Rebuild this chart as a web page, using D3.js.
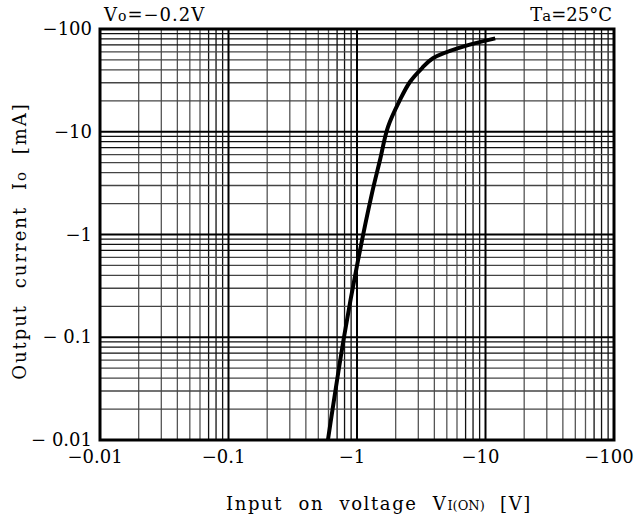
<!DOCTYPE html>
<html>
<head>
<meta charset="utf-8">
<script src="https://cdn.jsdelivr.net/npm/d3@7"></script>
<style>
  body { margin: 0; background: #fff; }
  svg text { font-family: "DejaVu Serif", serif; fill: #000; }
</style>
</head>
<body>
<div id="chart"></div>
<script>
// Input on voltage VI(ON) [V] vs output current Io [mA]
const voltage = [-0.594, -0.792, -1.02, -1.31, -1.51, -1.74, -2.16, -2.58, -3.21, -3.9, -6.33, -11.9];
const current = [-0.01, -0.1, -0.565, -2.54, -5.31, -11.1, -20.4, -30.5, -41.7, -52, -66, -81];

const xTicks = [-0.01, -0.1, -1, -10, -100];
const xTickLabels = ["\u22120.01", "\u22120.1", "\u22121", "\u221210", "\u2212100"];
const yTicks = [-100, -10, -1, -0.1, -0.01];
const yTickLabels = ["\u2212100", "\u221210", "\u22121", "\u2212 0.1", "\u2212 0.01"];

const width = 636, height = 522;
const margin = { top: 29, right: 22, bottom: 82, left: 100 };
const w = width - margin.left - margin.right;
const h = height - margin.top - margin.bottom;

const svg = d3.select("#chart").append("svg")
    .attr("width", width)
    .attr("height", height);

const g = svg.append("g")
    .attr("transform", `translate(${margin.left},${margin.top})`);

const x = d3.scaleLog().domain([-0.01, -100]).range([0, w]);
const y = d3.scaleLog().domain([-0.01, -100]).range([h, 0]);

// minor grid: 2..9 in every decade
const minor = [];
[-0.01, -0.1, -1, -10].forEach(d => {
    for (let k = 2; k <= 9; k++) minor.push(d * k);
});

g.selectAll(".vminor").data(minor).enter().append("line")
    .attr("x1", d => x(d)).attr("x2", d => x(d))
    .attr("y1", 0).attr("y2", h)
    .attr("stroke", (d, i) => i % 8 >= 5 ? "#111" : "#555")
    .attr("stroke-width", 1.3);

g.selectAll(".hminor").data(minor).enter().append("line")
    .attr("y1", d => y(d)).attr("y2", d => y(d))
    .attr("x1", 0).attr("x2", w)
    .attr("stroke", (d, i) => i % 8 >= 5 ? "#111" : "#444")
    .attr("stroke-width", 1.3);

// decade grid
g.selectAll(".vmajor").data(xTicks.slice(1, -1)).enter().append("line")
    .attr("x1", d => x(d)).attr("x2", d => x(d))
    .attr("y1", 0).attr("y2", h)
    .attr("stroke", "#000").attr("stroke-width", 2);

g.selectAll(".hmajor").data(yTicks.slice(1, -1)).enter().append("line")
    .attr("y1", d => y(d)).attr("y2", d => y(d))
    .attr("x1", 0).attr("x2", w)
    .attr("stroke", "#000").attr("stroke-width", 2.2);

// frame
g.append("rect")
    .attr("width", w).attr("height", h)
    .attr("fill", "none").attr("stroke", "#000").attr("stroke-width", 3);

// curve
const pts = voltage.map((v, i) => [v, current[i]]);
g.append("path")
    .datum(pts)
    .attr("fill", "none")
    .attr("stroke", "#000")
    .attr("stroke-width", 4)
    .attr("d", d3.line()
        .x(d => x(d[0]))
        .y(d => y(d[1]))
        .curve(d3.curveCatmullRom.alpha(0.5)));

// tick labels
g.selectAll(".xlab").data(xTicks).enter().append("text")
    .attr("x", d => x(d) - 5)
    .attr("y", h + 23)
    .attr("text-anchor", "middle")
    .attr("font-size", 18)
    .text((d, i) => xTickLabels[i]);

g.selectAll(".ylab").data(yTicks).enter().append("text")
    .attr("x", -8)
    .attr("y", d => y(d) + 6)
    .attr("text-anchor", "end")
    .attr("font-size", 18)
    .text((d, i) => yTickLabels[i]);

// annotations
const vo = svg.append("text")
    .attr("x", 104).attr("y", 21)
    .attr("font-size", 18)
    .attr("letter-spacing", 1);
vo.append("tspan").text("V");
vo.append("tspan").attr("font-size", 14).text("o");
vo.append("tspan").text("=\u22120.2V");

const ta = svg.append("text")
    .attr("x", 612).attr("y", 21)
    .attr("text-anchor", "end")
    .attr("font-size", 18);
ta.append("tspan").text("T");
ta.append("tspan").attr("font-size", 15).text("a");
ta.append("tspan").text("=25\u00b0C");

// axis titles
const xt = svg.append("text")
    .attr("x", 379).attr("y", 510)
    .attr("text-anchor", "middle")
    .attr("font-size", 18)
    .attr("letter-spacing", 1.6)
    .attr("word-spacing", 8);
xt.append("tspan").text("Input on voltage V");
xt.append("tspan").attr("font-size", 13).attr("letter-spacing", 0).text("I(ON)");
xt.append("tspan").text(" [V]");

const yt = svg.append("text")
    .attr("transform", "translate(26,241) rotate(-90)")
    .attr("text-anchor", "middle")
    .attr("font-size", 18)
    .attr("letter-spacing", 2)
    .attr("word-spacing", 8);
yt.append("tspan").text("Output current I");
yt.append("tspan").attr("font-size", 15).text("o");
yt.append("tspan").text(" [mA]");
</script>
</body>
</html>
